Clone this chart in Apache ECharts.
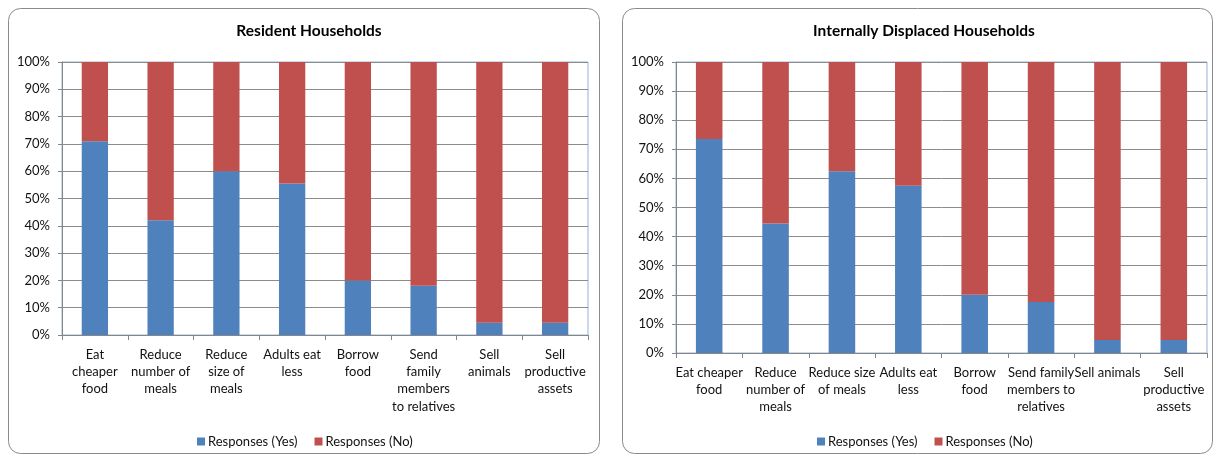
<!DOCTYPE html>
<html>
<head>
<meta charset="utf-8">
<script src="https://cdn.jsdelivr.net/npm/echarts@6/dist/echarts.min.js"></script>
<style>
  html, body { margin: 0; padding: 0; background: #fff; }
  #chart { width: 1215px; height: 457px; }
</style>
</head>
<body>
<div id="chart"></div>
<script>
// Coping strategies: share of households answering yes / no (percent)
const categories = [
  "Eat cheaper food", "Reduce number of meals", "Reduce size of meals", "Adults eat less",
  "Borrow food", "Send family members to relatives", "Sell animals", "Sell productive assets"
];
// Tick label wrapping used in each panel
const residentTickLabels = [
  "Eat\ncheaper\nfood", "Reduce\nnumber of\nmeals", "Reduce\nsize of\nmeals", "Adults eat\nless",
  "Borrow\nfood", "Send\nfamily\nmembers\nto relatives", "Sell\nanimals", "Sell\nproductive\nassets"
];
const displacedTickLabels = [
  "Eat cheaper\nfood", "Reduce\nnumber of\nmeals", "Reduce size\nof meals", "Adults eat\nless",
  "Borrow\nfood", "Send family\nmembers to\nrelatives", "Sell animals", "Sell\nproductive\nassets"
];
const residentYes = [71, 42, 60, 55.5, 20, 18, 4.5, 4.5];
const residentNo = [29, 58, 40, 44.5, 80, 82, 95.5, 95.5];
const displacedYes = [73.5, 44.5, 62.5, 57.5, 20, 17.5, 4.5, 4.5];
const displacedNo = [26.5, 55.5, 37.5, 42.5, 80, 82.5, 95.5, 95.5];
const panelTitles = ["Resident Households", "Internally Displaced Households"];
const seriesNames = ["Responses (Yes)", "Responses (No)"];

const FONT = "Lato, 'Open Sans', sans-serif";
const BLUE = "#4F81BD";
const RED = "#C0504D";

function makeXAxis(gridIndex, labels) {
  return {
    type: "category",
    gridIndex: gridIndex,
    data: categories,
    axisLine: { lineStyle: { color: "#868686", width: 1 } },
    axisTick: { show: true, length: 5, lineStyle: { color: "#868686" } },
    axisLabel: {
      color: "#111",
      fontFamily: FONT,
      fontSize: 13,
      lineHeight: 17.3,
      margin: 11,
      interval: 0,
      formatter: (v, i) => labels[i]
    }
  };
}
function makeYAxis(gridIndex) {
  return {
    type: "value",
    gridIndex: gridIndex,
    min: 0,
    max: 100,
    interval: 10,
    axisLine: { show: true, lineStyle: { color: "#868686", width: 1 } },
    axisTick: { show: true, length: 4, lineStyle: { color: "#868686" } },
    splitLine: { lineStyle: { color: "#8c8c8c", width: 1 } },
    axisLabel: {
      color: "#111",
      fontFamily: FONT,
      fontSize: 13,
      margin: 12,
      formatter: v => v + "%"
    }
  };
}
function makeBar(name, gridIndex, data, color, stack) {
  return {
    name: name,
    type: "bar",
    stack: stack,
    xAxisIndex: gridIndex,
    yAxisIndex: gridIndex,
    barWidth: "40%",
    itemStyle: { color: color },
    emphasis: { disabled: true },
    data: data
  };
}

const chart = echarts.init(document.getElementById("chart"), null, { renderer: "canvas" });
chart.setOption({
  animation: false,
  color: [BLUE, RED],
  graphic: [
    { type: "rect", shape: { x: 8.5, y: 8.5, width: 591, height: 445, r: 12 },
      style: { fill: "#fff", stroke: "#8a8a8a", lineWidth: 1 }, z: -10 },
    { type: "rect", shape: { x: 622.5, y: 8.5, width: 590, height: 445, r: 12 },
      style: { fill: "#fff", stroke: "#8a8a8a", lineWidth: 1 }, z: -10 }
  ],
  title: [
    { text: panelTitles[0], left: 304, top: 18, textAlign: "center",
      textStyle: { fontFamily: FONT, fontSize: 15.5, fontWeight: "bold", color: "#000" } },
    { text: panelTitles[1], left: 919, top: 18, textAlign: "center",
      textStyle: { fontFamily: FONT, fontSize: 15.5, fontWeight: "bold", color: "#000" } }
  ],
  legend: [
    { data: seriesNames, left: 192, top: 430, itemWidth: 8, itemHeight: 8, itemGap: 17,
      icon: "rect", selectedMode: false,
      textStyle: { fontFamily: FONT, fontSize: 13, color: "#111", padding: [0, 0, 0, -2] } },
    { data: seriesNames, left: 812, top: 430, itemWidth: 8, itemHeight: 8, itemGap: 17,
      icon: "rect", selectedMode: false,
      textStyle: { fontFamily: FONT, fontSize: 13, color: "#111", padding: [0, 0, 0, -2] } }
  ],
  grid: [
    { left: 62, top: 62, width: 526, height: 273, show: true, borderColor: "#95B3D7", borderWidth: 1, backgroundColor: "transparent" },
    { left: 676, top: 62, width: 531, height: 291, show: true, borderColor: "#95B3D7", borderWidth: 1, backgroundColor: "transparent" }
  ],
  xAxis: [makeXAxis(0, residentTickLabels), makeXAxis(1, displacedTickLabels)],
  yAxis: [makeYAxis(0), makeYAxis(1)],
  series: [
    makeBar(seriesNames[0], 0, residentYes, BLUE, "resident"),
    makeBar(seriesNames[1], 0, residentNo, RED, "resident"),
    makeBar(seriesNames[0], 1, displacedYes, BLUE, "displaced"),
    makeBar(seriesNames[1], 1, displacedNo, RED, "displaced")
  ]
});
</script>
</body>
</html>
